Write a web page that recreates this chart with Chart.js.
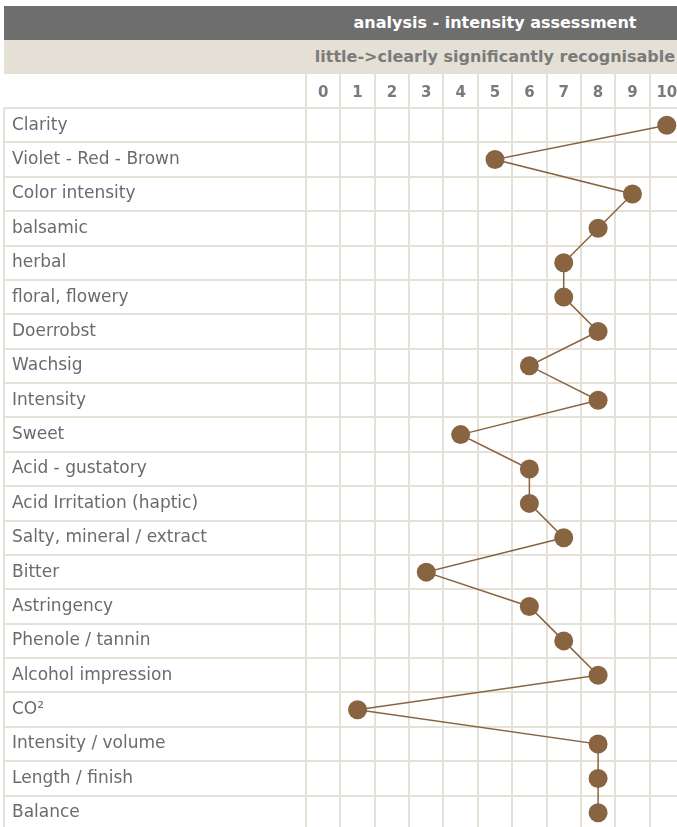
<!DOCTYPE html>
<html>
<head>
<meta charset="utf-8">
<script src="https://cdn.jsdelivr.net/npm/chart.js@4/dist/chart.umd.min.js"></script>
<style>
  html, body { margin: 0; padding: 0; background: #fff; overflow: hidden; width: 677px; height: 827px; }
  body { position: relative; font-family: "DejaVu Sans", sans-serif; }
  .bar { position: absolute; left: 4px; width: 680px; height: 34px; line-height: 34px; font-weight: bold; font-size: 16px; white-space: nowrap; box-sizing: border-box; padding-left: 302px; text-align: center; }
  .bar.title { top: 6px; background: #6e6e6e; color: #fff; }
  .bar.sub { top: 40px; background: #e5e0d5; color: #7a7a7a; }
  .leftEdge { position: absolute; left: 3px; top: 108px; width: 2px; height: 730px; background: #e6e1d7; }
  #wrap { position: absolute; left: 0; top: 74px; width: 684px; height: 756px; }
</style>
</head>
<body>
<div class="bar title">analysis - intensity assessment</div>
<div class="bar sub">little-&gt;clearly significantly recognisable</div>
<div class="leftEdge"></div>
<div id="wrap"><canvas id="chartIntensity" width="684" height="756"></canvas></div>

<script>
// attributes, top to bottom
const attributes = [
  'Clarity', 'Violet - Red - Brown', 'Color intensity', 'balsamic', 'herbal',
  'floral, flowery', 'Doerrobst', 'Wachsig', 'Intensity', 'Sweet',
  'Acid - gustatory', 'Acid Irritation (haptic)', 'Salty, mineral / extract', 'Bitter',
  'Astringency', 'Phenole / tannin', 'Alcohol impression', 'CO²',
  'Intensity / volume', 'Length / finish', 'Balance'
];
// intensity 0..10
const scores = [10, 5, 9, 8, 7, 7, 8, 6, 8, 4, 6, 6, 7, 3, 6, 7, 8, 1, 8, 8, 8];
const scaleSteps = [0, 1, 2, 3, 4, 5, 6, 7, 8, 9, 10];

const GRID = '#e6e1d7';
const BROWN = '#886441';

new Chart(document.getElementById('chartIntensity'), {
  type: 'line',
  data: {
    labels: attributes,
    datasets: [{
      data: scores,
      borderColor: BROWN,
      borderWidth: 1.5,
      backgroundColor: BROWN,
      pointBackgroundColor: BROWN,
      pointBorderWidth: 0,
      pointRadius: 9.5,
      pointHoverRadius: 9.5,
      tension: 0,
      clip: false
    }]
  },
  options: {
    indexAxis: 'y',
    responsive: false,
    animation: false,
    layout: { autoPadding: false, padding: { left: 12, top: 0, right: 0, bottom: 0 } },
    plugins: { legend: { display: false }, tooltip: { enabled: false } },
    scales: {
      x: {
        type: 'linear',
        position: 'top',
        min: -0.5,
        max: 10.5,
        afterBuildTicks: s => { s.ticks = scaleSteps.map(v => ({ value: v })); },
        afterFit: s => { s.height = 34; s.paddingLeft = 0; s.paddingRight = 0; },
        grid: { color: GRID, lineWidth: 2, offset: true, drawTicks: true, tickLength: 34 },
        border: { color: GRID, width: 2 },
        ticks: {
          autoSkip: false, maxRotation: 0,
          color: '#7a7a7a',
          font: { family: 'DejaVu Sans', size: 15, weight: 'bold', lineHeight: 1 },
          padding: -26.5
        }
      },
      y: {
        type: 'category',
        offset: true,
        afterFit: s => { s.width = 294; s.paddingTop = 0; s.paddingBottom = 0; },
        grid: { color: GRID, lineWidth: 2, offset: true, drawTicks: true, tickLength: 302 },
        border: { color: GRID, width: 2 },
        ticks: {
          autoSkip: false,
          crossAlign: 'far',
          color: '#6b6b6b',
          font: { family: 'DejaVu Sans', size: 17 }
        }
      }
    }
  }
});
</script>
</body>
</html>
